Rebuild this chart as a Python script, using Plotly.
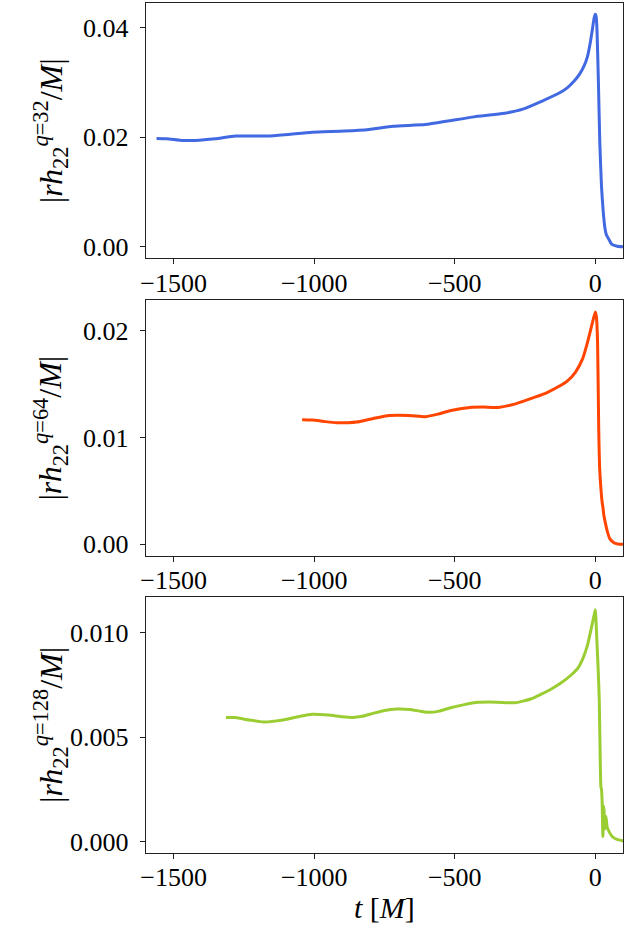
import plotly.graph_objects as go

# ---- data ----
t_q32 = [-1561, -1525, -1468, -1424, -1352, -1280, -1165, -1093, -1007, -892, -805, -719,
         -604, -518, -431, -330, -258, -193, -130, -100, -76, -56, -40, -28, -17, -10, -4,
         0, 3, 6, 11, 16, 22, 28, 34, 40, 48, 58, 78, 100]
h_q32 = [0.01976, 0.0197, 0.0194, 0.0194, 0.0197, 0.0202, 0.0202, 0.0205, 0.0209, 0.0211,
         0.0214, 0.0220, 0.0223, 0.0230, 0.0237, 0.0243, 0.0251, 0.0265, 0.0280, 0.0290,
         0.0302, 0.0315, 0.0330, 0.0347, 0.0375, 0.0398, 0.0418, 0.0424, 0.0420, 0.0395,
         0.0300, 0.0190, 0.0110, 0.0065, 0.0035, 0.0021, 0.0014, 0.0005, 0.0001, 0.0]

t_q64 = [-1043, -1007, -960, -921, -880, -849, -790, -733, -661, -604, -560, -518, -446,
         -400, -345, -287, -215, -170, -129, -100, -71, -45, -28, -10, 0, 4, 8, 12, 15,
         20, 25, 27, 30, 35, 40, 45, 52, 66, 80, 100]
h_q64 = [0.01168, 0.01165, 0.01150, 0.0114, 0.01140, 0.01146, 0.01180, 0.01208, 0.01208,
         0.01196, 0.01220, 0.01252, 0.01283, 0.01286, 0.01283, 0.01314, 0.01379, 0.01425,
         0.01481, 0.01530, 0.01612, 0.01740, 0.01891, 0.0208, 0.02177, 0.0213, 0.0190,
         0.0110, 0.0074, 0.0052, 0.0038, 0.0035, 0.0028, 0.0021, 0.0015, 0.0010, 0.0005,
         0.00015, 0.00003, 0.0]

t_q128 = [-1314, -1280, -1230, -1180, -1140, -1093, -1050, -1007, -949, -900, -863, -830,
          -791, -750, -705, -661, -620, -589, -555, -518, -470, -417, -350, -287, -230,
          -193, -158, -120, -86, -60, -43, -28, -14, -5, 0, 5, 10, 14, 18, 20, 22, 24, 27,
          29, 31, 34, 38, 42, 48, 60, 77, 100]
h_q128 = [0.00595, 0.00594, 0.00582, 0.00573, 0.00577, 0.00587, 0.00600, 0.0061, 0.00606,
          0.00598, 0.00595, 0.00600, 0.00614, 0.00628, 0.00635, 0.00633, 0.00624, 0.00619,
          0.00625, 0.0064, 0.00655, 0.00667, 0.00668, 0.00665, 0.00683, 0.00706, 0.0073,
          0.00762, 0.00798, 0.00835, 0.00881, 0.00940, 0.01024, 0.0108, 0.01111, 0.0098,
          0.0083, 0.0068, 0.0035, 0.0026, 0.0025, 0.0020, 0.00024, 0.0017, 0.0015, 0.0006,
          0.0012, 0.0007, 0.0005, 0.00024, 0.0001, 0.00003]

series = [
    (t_q32, h_q32, "#4169E1", "32"),
    (t_q64, h_q64, "#FF4500", "64"),
    (t_q128, h_q128, "#9ACD32", "128"),
]

x_ticks = [-1500, -1000, -500, 0]
x_ticktext = ["\u22121500", "\u22121000", "\u2212500", "0"]
y_ticks = [[0.0, 0.02, 0.04], [0.0, 0.01, 0.02], [0.0, 0.005, 0.010]]
y_ticktext = [["0.00", "0.02", "0.04"], ["0.00", "0.01", "0.02"], ["0.000", "0.005", "0.010"]]
y_ranges = [[-0.00212, 0.04452], [-0.00109, 0.0229], [-0.00056, 0.0117]]

W, H = 639, 930
x_dom = [141.7 / W, 623.3 / W]
y_px = [(2.7, 259.3), (301.0, 557.7), (599.3, 856.0)]

FONT = "Liberation Serif"
fig = go.Figure()
layout = dict(width=W, height=H, margin=dict(l=0, r=0, t=0, b=0),
              paper_bgcolor="white", plot_bgcolor="white", showlegend=False,
              font=dict(family=FONT, size=26, color="black"))
annotations = []
for i, (t, h, col, q) in enumerate(series):
    n = "" if i == 0 else str(i + 1)
    fig.add_trace(go.Scatter(x=t, y=h, mode="lines",
                             line=dict(color=col, width=3, shape="spline", smoothing=0.5),
                             xaxis="x" + n, yaxis="y" + n, hoverinfo="skip"))
    top, bot = y_px[i]
    ydom = [1 - bot / H, 1 - top / H]
    axcommon = dict(showgrid=False, zeroline=False, showline=True, mirror=True,
                    linecolor="#222222", linewidth=1, ticks="outside", ticklen=5,
                    tickwidth=1, tickcolor="#222222",
                    tickfont=dict(family=FONT, size=26, color="black"))
    layout["xaxis" + n] = dict(domain=x_dom, range=[-1600, 100], tickvals=x_ticks,
                               ticktext=x_ticktext, anchor="y" + n, ticklabelstandoff=-4,
                               **axcommon)
    layout["yaxis" + n] = dict(domain=ydom, range=y_ranges[i], tickvals=y_ticks[i],
                               ticktext=y_ticktext[i], anchor="x" + n, ticklabelstandoff=6,
                               **axcommon)
    annotations.append(dict(
        text="|<i>rh</i><sub>22</sub><sup><i>q</i>=" + q + "</sup>/<i>M</i>|",
        x=46 / W, y=(ydom[0] + ydom[1]) / 2, xref="paper", yref="paper",
        xanchor="center", yanchor="middle", textangle=-90, showarrow=False,
        font=dict(family=FONT, size=32, color="black")))

annotations.append(dict(text="<i>t</i> [<i>M</i>]", x=382.5 / W, y=1 - 910 / H,
                        xref="paper", yref="paper", xanchor="center", yanchor="middle",
                        showarrow=False, font=dict(family=FONT, size=30, color="black")))
layout["annotations"] = annotations
fig.update_layout(**layout)
fig.write_html("out.html", config={"displayModeBar": False},
               post_script="document.body.style.margin='0';")
